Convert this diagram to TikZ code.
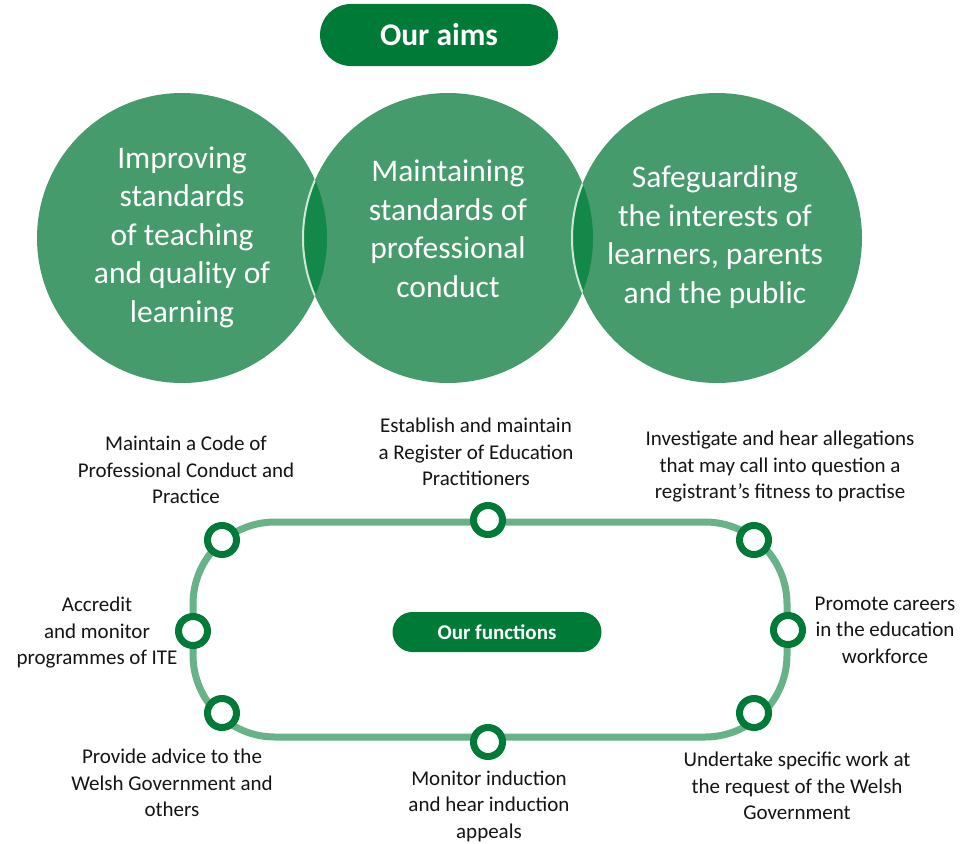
\documentclass[tikz,border=0pt]{standalone}
\usepackage{fontspec}
\setmainfont{Carlito}
\definecolor{dkgreen}{RGB}{0,122,55}
\definecolor{circgreen}{RGB}{70,155,108}
\definecolor{lensgreen}{RGB}{19,136,72}
\definecolor{trackgreen}{RGB}{104,178,135}
\definecolor{edgelight}{RGB}{205,232,214}
\definecolor{labeltext}{RGB}{20,20,20}
\tikzset{
  pill/.style={rounded corners=#1, fill=dkgreen, text=white, font=\bfseries, inner sep=0pt},
  aimtext/.style={text=white, align=center, font=\fontsize{31.5}{38.5}\selectfont, inner sep=0pt},
  label/.style={text=labeltext, align=center, font=\fontsize{21}{26.5}\selectfont, inner sep=0pt},
  ringnode/.style={circle, draw=dkgreen, line width=7pt, fill=white, minimum size=29pt, inner sep=0pt},
  track/.style={draw=trackgreen, line width=7pt, rounded corners=82pt}
}
\begin{document}
\begin{tikzpicture}[x=1pt,y=-1pt]
\useasboundingbox (0,0) rectangle (973,843);
% title pill
\node[pill=31pt, minimum width=238pt, minimum height=62pt, font=\bfseries\fontsize{31.5}{36}\selectfont] (aims) at (439,35) {Our aims};
% circles
\coordinate (cL) at (182,238);
\coordinate (cM) at (448,238);
\coordinate (cR) at (717,238);
\fill[circgreen] (cL) circle (145);
\fill[circgreen] (cM) circle (145);
\fill[circgreen] (cR) circle (145);
\begin{scope}
  \clip (cL) circle (145);
  \fill[lensgreen] (cM) circle (145);
  \draw[edgelight, line width=2pt] (cM) circle (145);
\end{scope}
\begin{scope}
  \clip (cM) circle (145);
  \fill[lensgreen] (cR) circle (145);
  \draw[edgelight, line width=2pt] (cR) circle (145);
\end{scope}
\node[aimtext] (aimL) at (182,237) {Improving\\standards\\of teaching\\and quality of\\learning};
\node[aimtext] (aimM) at (448,229) {Maintaining\\standards of\\professional\\conduct};
\node[aimtext] (aimR) at (715,237) {Safeguarding\\the interests of\\learners, parents\\and the public};
% track
\draw[track] (193,522) rectangle (787,737);
% functions pill
\node[pill=20pt, minimum width=209pt, minimum height=40pt, font=\bfseries\fontsize{21}{25}\selectfont] (func) at (497,632) {Our functions};
% ring nodes
\node[ringnode] (n1) at (222,540) {};
\node[ringnode] (n2) at (488,520) {};
\node[ringnode] (n3) at (754,540) {};
\node[ringnode] (n4) at (193,631) {};
\node[ringnode] (n5) at (788,630) {};
\node[ringnode] (n6) at (222,713) {};
\node[ringnode] (n7) at (488,742) {};
\node[ringnode] (n8) at (754,713) {};
% labels
\node[label] (l1) at (186,470) {Maintain a Code of\\Professional Conduct and\\Practice};
\node[label] (l2) at (476,452) {Establish and maintain\\a Register of Education\\Practitioners};
\node[label] (l3) at (780,467) {Investigate and hear allegations\\that may call into question a\\registrant’s fitness to practise};
\node[label] (l4) at (97,633) {Accredit\\and monitor\\programmes of ITE};
\node[label] (l5) at (885,630) {Promote careers\\in the education\\workforce};
\node[label] (l6) at (172,783) {Provide advice to the\\Welsh Government and\\others};
\node[label] (l7) at (489,806) {Monitor induction\\and hear induction\\appeals};
\node[label] (l8) at (797,786) {Undertake specific work at\\the request of the Welsh\\Government};
\end{tikzpicture}
\end{document}
